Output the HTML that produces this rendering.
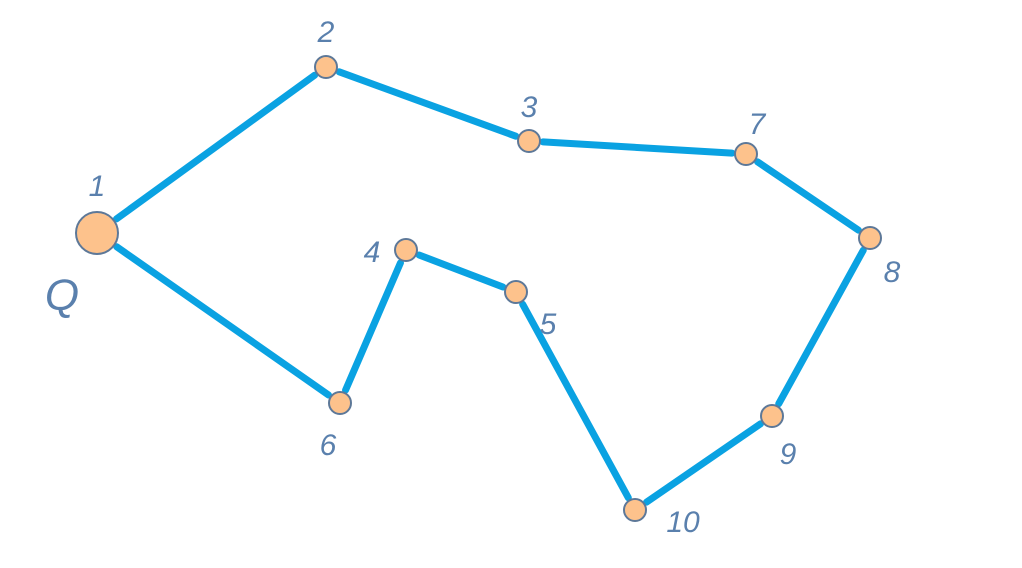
<!DOCTYPE html>
<html><head><meta charset="utf-8">
<style>
html,body{margin:0;padding:0;background:#fff;}
svg{display:block;}
text{font-family:"Liberation Sans",sans-serif;font-style:italic;fill:#5a80ad;}
</style></head>
<body>
<svg id="chart" width="1022" height="568" viewBox="0 0 1022 568"></svg>
<script>
const nodeIds = ["1","2","3","4","5","6","7","8","9","10"];
const nodeX = [97,326,529,406,516,340,746,870,772,635];
const nodeY = [233,67,141,250,292,403,154,238,416,510];
const nodeR = [21,11,11,11,11,11,11,11,11,11];
const labelX = [97,326,529,372,548,328,757,892,788,683];
const labelY = [196,42,117,262,334,455,134,282,464,532];
const edgesFrom = ["1","2","3","7","8","9","10","5","4","6"];
const edgesTo   = ["2","3","7","8","9","10","5","4","6","1"];
const svg = document.getElementById('chart');
const NS = "http://www.w3.org/2000/svg";
const idx = id => nodeIds.indexOf(id);
for (let i = 0; i < edgesFrom.length; i++) {
  const a = idx(edgesFrom[i]), b = idx(edgesTo[i]);
  const dx = nodeX[b]-nodeX[a], dy = nodeY[b]-nodeY[a], L = Math.hypot(dx,dy);
  const ga = nodeR[a]+3, gb = nodeR[b]+3;
  const l = document.createElementNS(NS,'line');
  l.setAttribute('x1', nodeX[a]+dx/L*ga); l.setAttribute('y1', nodeY[a]+dy/L*ga);
  l.setAttribute('x2', nodeX[b]-dx/L*gb); l.setAttribute('y2', nodeY[b]-dy/L*gb);
  l.setAttribute('stroke','#0aa2e2'); l.setAttribute('stroke-width','7'); l.setAttribute('stroke-linecap','round');
  
  
  svg.appendChild(l);
}
for (let i = 0; i < nodeIds.length; i++) {
  const c = document.createElementNS(NS,'circle');
  c.setAttribute('cx', nodeX[i]); c.setAttribute('cy', nodeY[i]); c.setAttribute('r', nodeR[i]);
  c.setAttribute('fill','#fdc28c'); c.setAttribute('stroke','#5d7898'); c.setAttribute('stroke-width','2');
  
  
  svg.appendChild(c);
  const t = document.createElementNS(NS,'text');
  t.setAttribute('x', labelX[i]); t.setAttribute('y', labelY[i]);
  t.setAttribute('text-anchor','middle'); t.setAttribute('font-size','30');
  t.textContent = nodeIds[i];
  
  
  svg.appendChild(t);
}
const q = document.createElementNS(NS,'text');
q.setAttribute('x', 62); q.setAttribute('y', 310);
q.setAttribute('text-anchor','middle'); q.setAttribute('font-size','44');
q.textContent = 'Q';


svg.appendChild(q);
</script>
</body></html>
